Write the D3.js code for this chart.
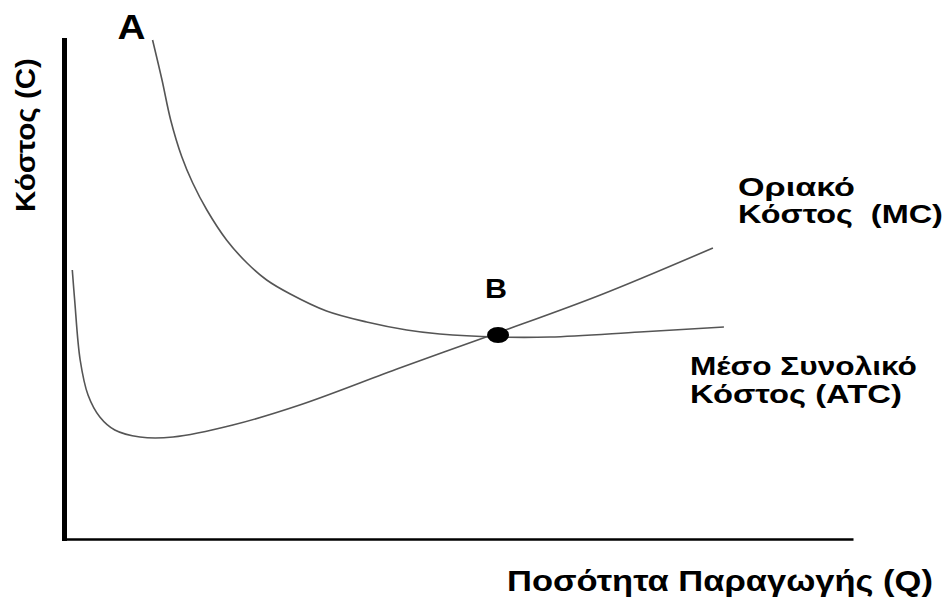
<!DOCTYPE html>
<html>
	<head>
		<meta charset="utf-8">
		<title>Κόστος</title>
		<script src="https://d3js.org/d3.v7.min.js"></script>
		<style>
			body { margin: 0; background: #fff; }
			text { font-family: "Liberation Sans", Arial, sans-serif; font-weight: bold; fill: #000; white-space: pre; }
		</style>
	</head>
	<body>
		<script>

			// Μέσο Συνολικό Κόστος (ATC)
			var atcQ = [11.0, 12.2, 13.3, 14.7, 16.1, 17.9, 20.4, 23.0, 25.5, 28.5, 33.1, 38.2, 43.3, 47.5, 54.8, 61.5, 72.9, 83.6];
			var atcC = [99.8, 91.8, 83.8, 76.5, 71.2, 65.8, 59.8, 55.2, 51.8, 49.0, 45.6, 43.4, 41.8, 41.0, 40.4, 40.4, 41.4, 42.4];

			// Οριακό Κόστος (MC)
			var mcQ = [0.8, 1.1, 1.8, 2.8, 4.3, 6.2, 9.4, 13.6, 21.2, 29.7, 42.4, 54.8, 67.9, 82.2];
			var mcC = [53.8, 47.8, 35.8, 28.8, 24.4, 21.8, 20.4, 20.4, 22.8, 26.8, 34.2, 41.2, 48.8, 58.2];

			// σημεία A και B
			var pointA = {q: 11.0, c: 99.8};
			var pointB = {q: 54.9, c: 40.8};

			var width = 948, height = 599;

			var svg = d3.select("body").append("svg")
				.attr("width", width)
				.attr("height", height);

			var x = d3.scaleLinear().domain([0, 100]).range([66, 853]);
			var y = d3.scaleLinear().domain([0, 100]).range([539, 39]);

			var line = d3.line()
				.x(function(d){ return x(d[0]); })
				.y(function(d){ return y(d[1]); })
				.curve(d3.curveCatmullRom.alpha(0.5));

			// axes, no ticks
			var xAxis = svg.append("g")
				.attr("transform", "translate(0," + y(0) + ")")
				.call(d3.axisBottom(x).ticks(0).tickSizeOuter(0));
			xAxis.select(".domain").attr("stroke", "#000").attr("stroke-width", 2.5);

			var yAxis = svg.append("g")
				.attr("transform", "translate(" + (x(0) - 1.5) + ",0)")
				.call(d3.axisLeft(y).ticks(0).tickSizeOuter(0));
			yAxis.select(".domain").attr("stroke", "#000").attr("stroke-width", 5)
				.attr("d", "M0," + (y(0) + 2) + "V" + (y(100) - 1));

			var atc = d3.zip(atcQ, atcC);
			var mc = d3.zip(mcQ, mcC);

			svg.append("path")
				.datum(atc)
				.attr("fill", "none")
				.attr("stroke", "#555")
				.attr("stroke-width", 1.6)
				.attr("d", line);

			svg.append("path")
				.datum(mc)
				.attr("fill", "none")
				.attr("stroke", "#555")
				.attr("stroke-width", 1.6)
				.attr("d", line);

			svg.append("ellipse")
				.attr("cx", x(pointB.q))
				.attr("cy", y(pointB.c))
				.attr("rx", 11)
				.attr("ry", 8)
				.attr("fill", "#000");

			// text stretched sideways to the width seen in the picture
			function label(str, lx, ly, len, size, rot) {
				var t = svg.append("text")
					.style("font-size", size + "px")
					.text(str);
				var sx = len / t.node().getComputedTextLength();
				t.attr("transform", "translate(" + lx + "," + ly + ")" + (rot ? " rotate(" + rot + ")" : "") + " scale(" + sx + ",1)");
				return t;
			}

			label("A", x(pointA.q) - 35, y(pointA.c) - 1, 28, 35);
			label("B", x(pointB.q) - 13, y(pointB.c) - 37, 22, 28);

			label("Οριακό", 738, 196, 117, 25);
			label("Κόστος  (MC)", 738, 223, 205, 25);
			label("Μέσο Συνολικό", 690, 375, 227, 25);
			label("Κόστος (ATC)", 690, 403, 212, 25);
			label("Ποσότητα Παραγωγής (Q)", 507, 591, 426, 29);
			label("Κόστος (C)", 35, 212, 154, 27, -90);

		</script>
	</body>
</html>
